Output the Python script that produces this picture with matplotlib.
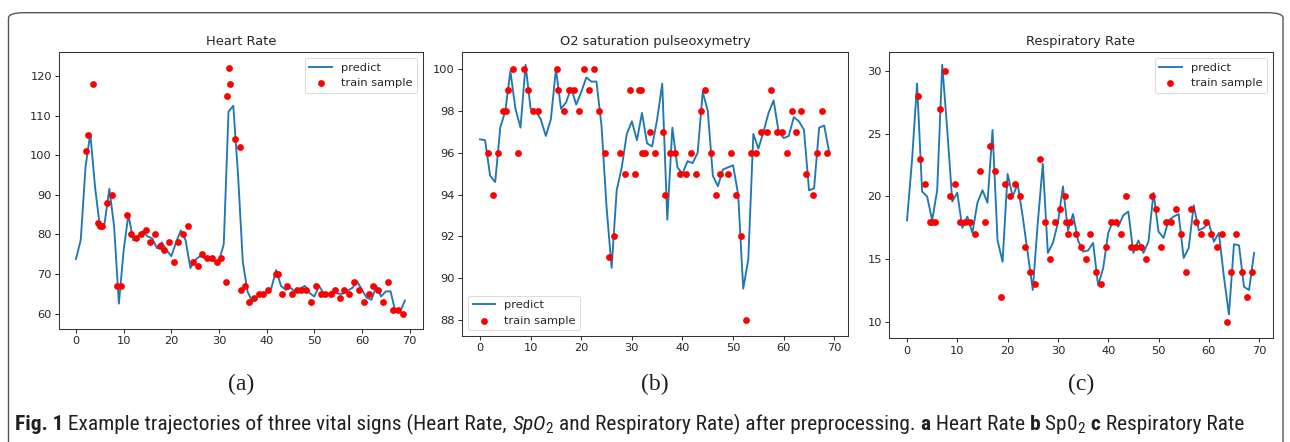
import matplotlib
matplotlib.use("Agg")
import matplotlib.pyplot as plt
from matplotlib.patches import FancyBboxPatch
from matplotlib import font_manager
import numpy as np

# ---------------- data ----------------
steps = list(range(70))

hr_predict = [73.8, 78.6, 97, 105.5, 92, 82, 82.8, 91.5, 82, 62.5,
              76, 85, 78.5, 79.5, 80.8, 79.5, 79, 76.5, 78, 76,
              74.5, 78, 81, 78.5, 71.5, 73.5, 74.5, 74, 73.5, 73.3,
              73.3, 77.5, 111, 112.5, 95, 73, 65.5, 63, 64.3, 65,
              65.2, 66.5, 71, 67, 66, 66.5, 65.5, 66.2, 67, 65.2,
              64.3, 67, 65, 65, 65.8, 65, 65, 65.8, 66.5, 68.1,
              66, 64, 63.5, 67, 64.3, 65.6, 65.6, 60.5, 60.5, 63.3]
hr_sample_t = [2.1, 2.6, 3.5, 4.6, 5.0, 5.5, 6.6, 7.6, 8.6, 9.5,
               10.6, 11.6, 12.6, 13.6, 14.6, 15.6, 16.6, 17.6, 18.5, 19.5,
               20.5, 21.5, 22.5, 23.5, 24.5, 25.5, 26.5, 27.5, 28.5, 29.5,
               30.5, 31.4, 31.6, 32.0, 32.4, 33.4, 34.4, 34.6, 35.4, 36.3,
               37.3, 38.3, 39.3, 40.3, 41.9, 42.3, 43.3, 44.3, 45.3, 46.3,
               47.3, 48.3, 49.4, 50.3, 51.3, 52.3, 53.4, 54.3, 55.4, 56.3,
               57.3, 58.4, 59.4, 60.4, 61.4, 62.4, 63.4, 64.5, 65.5, 66.5,
               67.5, 68.5]
hr_sample = [101, 105, 118, 83, 82, 82, 88, 90, 67, 67,
             85, 80, 79, 80, 81, 78, 80, 77, 76, 78,
             73, 78, 80, 82, 73, 72, 75, 74, 74, 73,
             74, 68, 115, 122, 118, 104, 102, 66, 67, 63,
             64, 65, 65, 66, 70, 70, 65, 67, 65, 66,
             66, 66, 63, 67, 65, 65, 65, 66, 64, 66,
             65, 68, 66, 63, 65, 67, 66, 63, 68, 61,
             61, 60]

o2_predict = [96.64, 96.6, 94.9, 94.6, 97.2, 98.0, 99.9, 98.1, 97.2, 100.2,
              98.1, 98.0, 97.6, 96.8, 97.6, 100.0, 98.1, 98.4, 99.1, 98.3,
              98.9, 99.6, 99.4, 99.4, 97.3, 93.4, 90.5, 94.2, 95.3, 96.9,
              97.5, 96.6, 97.9, 96.45, 96.3, 97.6, 99.3, 92.8, 97.2, 95.3,
              95.0, 95.6, 95.5, 96.0, 98.9, 98.0, 94.9, 94.4, 95.2, 95.3,
              95.4, 94.0, 89.5, 90.9, 96.9, 96.2, 97.0, 97.9, 98.5, 97.0,
              96.7, 96.8, 97.7, 97.5, 97.1, 94.2, 94.3, 97.2, 97.3, 96.0]
o2_sample_t = [1.5, 2.6, 3.6, 4.5, 5.1, 5.6, 6.6, 7.6, 8.6, 9.5,
               10.5, 11.5, 15.2, 15.5, 16.6, 17.6, 18.6, 19.6, 20.5, 21.6,
               22.6, 23.6, 24.6, 25.5, 26.5, 27.6, 28.6, 29.6, 30.6, 31.5,
               31.9, 32.1, 32.6, 33.6, 34.6, 36.2, 36.5, 37.5, 38.6, 39.5,
               40.6, 41.6, 42.6, 43.6, 44.5, 45.6, 46.6, 47.5, 48.9, 49.6,
               50.6, 51.5, 52.5, 53.5, 54.6, 55.6, 56.6, 57.5, 58.6, 59.6,
               60.6, 61.6, 62.5, 63.5, 64.5, 65.8, 66.5, 67.5, 68.6]
o2_sample = [96, 94, 96, 98, 98, 99, 100, 96, 100, 99,
             98, 98, 100, 99, 98, 99, 99, 98, 100, 99,
             100, 98, 96, 91, 92, 96, 95, 99, 95, 99,
             99, 96, 96, 97, 96, 97, 94, 96, 96, 95,
             95, 96, 95, 98, 99, 96, 94, 95, 95, 96,
             94, 92, 88, 96, 96, 97, 97, 99, 97, 97,
             96, 98, 97, 98, 95, 94, 96, 98, 96]

rr_predict = [18.1, 22.9, 29.0, 20.4, 20.0, 18.1, 20.5, 30.5, 25.3, 19.6,
              20.3, 17.5, 18.4, 17.1, 19.5, 20.5, 19.5, 25.3, 16.5, 14.8,
              21.8, 20.0, 21.0, 18.4, 15.5, 12.55, 17.9, 22.6, 15.5, 16.3,
              17.9, 20.8, 17.3, 18.6, 16.5, 15.6, 15.7, 16.3, 12.9, 14.3,
              17.1, 18.1, 17.6, 18.5, 18.8, 15.5, 16.5, 15.5, 16.4, 20.3,
              17.2, 16.7, 18.1, 18.4, 18.6, 15.1, 15.9, 19.3, 17.3, 17.5,
              17.9, 16.4, 17.1, 13.6, 10.6, 16.2, 16.1, 12.8, 12.55, 15.5]
rr_sample_t = [2.1, 2.5, 3.5, 4.5, 4.9, 5.6, 6.5, 7.6, 8.5, 9.5,
               10.5, 11.5, 12.5, 13.5, 14.5, 15.5, 16.5, 17.5, 18.6, 19.5,
               20.5, 21.5, 22.5, 23.5, 24.5, 25.5, 26.5, 27.5, 28.5, 29.5,
               30.5, 31.5, 31.7, 32.1, 32.5, 33.5, 34.5, 35.5, 36.4, 37.5,
               38.5, 39.5, 40.5, 41.5, 42.5, 43.5, 44.5, 45.5, 46.5, 47.5,
               48.8, 49.5, 50.5, 51.5, 52.5, 53.5, 54.5, 55.5, 56.5, 57.5,
               58.5, 59.5, 60.5, 61.6, 62.6, 63.6, 64.5, 65.5, 66.5, 67.5,
               68.6]
rr_sample = [28, 23, 21, 18, 18, 18, 27, 30, 20, 21,
             18, 18, 18, 17, 22, 18, 24, 22, 12, 21,
             20, 21, 20, 16, 14, 13, 23, 18, 15, 18,
             19, 20, 18, 17, 18, 17, 16, 15, 17, 14,
             13, 16, 18, 18, 17, 20, 16, 16, 16, 15,
             20, 19, 16, 18, 18, 19, 17, 14, 19, 18,
             17, 18, 17, 16, 17, 10, 14, 17, 14, 12,
             14]

titles = ["Heart Rate", "O2 saturation pulseoxymetry", "Respiratory Rate"]
panel_labels = ["(a)", "(b)", "(c)"]
legend_labels = ["predict", "train sample"]
x_ticks = [0, 10, 20, 30, 40, 50, 60, 70]
y_ticks = [[60, 70, 80, 90, 100, 110, 120],
           [88, 90, 92, 94, 96, 98, 100],
           [10, 15, 20, 25, 30]]

# ---------------- fonts ----------------
available = {f.name for f in font_manager.fontManager.ttflist}
cap_family = "Liberation Sans"
for cand in ["Liberation Sans Narrow", "Roboto Condensed", "DejaVu Sans Condensed",
             "Open Sans Condensed", "Noto Sans Condensed", "Roboto", "Liberation Sans"]:
    if cand in available:
        cap_family = cand
        break
cap_font = [cap_family, "DejaVu Sans"]
plt.rcParams["font.family"] = ["DejaVu Sans"]
plt.rcParams["mathtext.fontset"] = "custom"
plt.rcParams["mathtext.rm"] = cap_family
plt.rcParams["mathtext.it"] = cap_family + ":italic"
plt.rcParams["mathtext.bf"] = cap_family + ":bold"

# ---------------- layout ----------------
W, H = 1290, 442
fig = plt.figure(figsize=(W / 100, H / 100), dpi=100)
fig.patch.set_facecolor("white")

def rect(l, t, r, b):
    return [l / W, 1 - b / H, (r - l) / W, (b - t) / H]

axes_px = [(59.3, 52.3, 423.0, 329.0),
           (462.3, 52.3, 848.3, 336.0),
           (889.3, 52.3, 1272.7, 338.3)]
ylims = [(56.1, 126.0), (87.24, 100.8), (8.7, 31.49)]
xlims = [(-3.5, 72.8), (-3.5, 72.76), (-3.52, 72.7)]
legend_locs = ["upper right", "lower left", "upper right"]

predicts = [hr_predict, o2_predict, rr_predict]
samples_t = [hr_sample_t, o2_sample_t, rr_sample_t]
samples = [hr_sample, o2_sample, rr_sample]

text_col = "#262626"
for i in range(3):
    ax = fig.add_axes(rect(*axes_px[i]))
    ax.plot(steps, predicts[i], color="#1f77b4", lw=1.35, label=legend_labels[0])
    ax.scatter(samples_t[i], samples[i], s=24, color="red", zorder=3,
               label=legend_labels[1], linewidths=0)
    ax.set_xlim(*xlims[i])
    ax.set_ylim(*ylims[i])
    ax.set_xticks(x_ticks)
    ax.set_yticks(y_ticks[i])
    ax.tick_params(labelsize=8.2, length=2.8, width=0.7, colors=text_col,
                   labelcolor=text_col, pad=2.5)
    for sp in ax.spines.values():
        sp.set_linewidth(0.75)
        sp.set_color("#333333")
    ax.set_title(titles[i], fontsize=9.4, color=text_col, pad=5)
    leg = ax.legend(loc=legend_locs[i], fontsize=8.2, framealpha=0.8,
                    borderpad=0.4, handlelength=2.0, labelspacing=0.5)
    leg.get_frame().set_linewidth(0.6)
    for t in leg.get_texts():
        t.set_color(text_col)
    cx = (axes_px[i][0] + axes_px[i][2]) / 2
    fig.text(cx / W, 1 - 384 / H, panel_labels[i], ha="center", va="center",
             fontsize=17, family="Liberation Serif", color="#231f20")

# outer border box
box = FancyBboxPatch((8.5 / W, -0.1), (1283 - 8.5) / W, 0.1 + 1 - 12.7 / H,
                     boxstyle="round,pad=0,rounding_size=0.012",
                     transform=fig.transFigure, fill=False,
                     edgecolor="#555555", linewidth=1.0, clip_on=False)
fig.add_artist(box)

# ---------------- caption ----------------
pieces = [("Fig. 1", "bold"),
          (" Example trajectories of three vital signs (Heart Rate, ", "normal"),
          (r"$\mathit{SpO}_2$", "normal"),
          (" and Respiratory Rate) after preprocessing. ", "normal"),
          ("a", "bold"),
          (" Heart Rate ", "normal"),
          ("b", "bold"),
          (" Sp0$_2$", "normal"),
          (" c", "bold"),
          (" Respiratory Rate", "normal")]

cap_left, cap_right, cap_base = 15.0, 1247.0, 430.0
renderer = fig.canvas.get_renderer()

def place_caption(fs):
    arts = []
    x = cap_left
    for txt, wt in pieces:
        t = fig.text(x / W, 1 - cap_base / H, txt, fontsize=fs, weight=wt,
                     family=cap_font, color="#231f20",
                     ha="left", va="baseline")
        bb = t.get_window_extent(renderer=renderer)
        x += bb.width
        arts.append(t)
    return arts, x - cap_left

fs = 16.0
arts, width = place_caption(fs)
for a in arts:
    a.remove()
fs = min(fs * (cap_right - cap_left) / width, 17.0)
arts, width = place_caption(fs)

fig.savefig("out.png", dpi=100, facecolor="white")
